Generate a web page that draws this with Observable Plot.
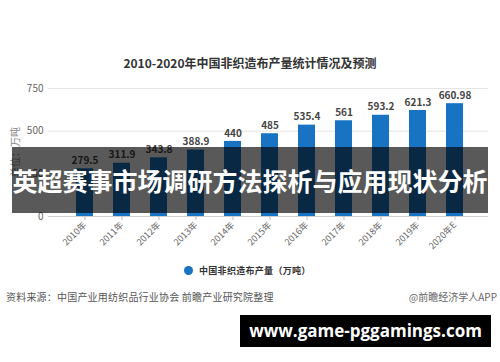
<!DOCTYPE html>
<html><head><meta charset="utf-8">
<script src="https://cdn.jsdelivr.net/npm/d3@7"></script>
<script src="https://cdn.jsdelivr.net/npm/@observablehq/plot@0.6"></script>
<style>
body{margin:0;background:#fff;font-family:"Noto Sans CJK SC","Noto Sans",sans-serif;}
#wrap{position:relative;width:500px;height:362px;overflow:hidden;background:#fff;}
#chart{position:absolute;left:0;top:0;}
.abs{position:absolute;white-space:nowrap;}
</style></head><body>
<div id="wrap">
  <div id="chart"></div>
  <div class="abs" id="title" style="left:0;width:500px;top:54px;text-align:center;font-size:12px;font-weight:bold;color:#333;line-height:18px;"></div>
  <div class="abs" id="ytitle" style="left:15px;top:152px;transform:translate(-50%,-50%) rotate(-90deg);font-size:10px;color:#888;line-height:12px;"></div>
  <div class="abs" id="legend" style="left:184px;top:264px;font-size:9px;color:#333;line-height:14px;font-weight:bold;">
    <span style="display:inline-block;width:9px;height:9px;border-radius:50%;vertical-align:-1px;margin-right:6px;" id="legdot"></span><span id="legtext" style="letter-spacing:0.3px;"></span>
  </div>
  <div class="abs" id="source" style="left:6px;top:289px;font-size:10px;color:#555;line-height:16px;letter-spacing:0.2px;"></div>
  <div class="abs" id="brand" style="right:3px;top:289px;font-size:10px;color:#666;line-height:16px;"></div>
  <div class="abs" id="band" style="left:12px;top:147px;width:476px;height:66px;background:rgba(0,0,0,0.65);color:#fff;font-weight:bold;font-size:25px;line-height:66px;text-align:center;"></div>
  <div class="abs" id="site" style="left:240px;top:315px;width:251px;height:32px;background:#000;color:#fff;font-family:'Open Sans',sans-serif;font-weight:bold;font-size:17px;line-height:32px;text-align:center;"></div>
</div>
<script>
const years = ["2010年","2011年","2012年","2013年","2014年","2015年","2016年","2017年","2018年","2019年","2020年E"];
const values = [279.5, 311.9, 343.8, 388.9, 440, 485, 535.4, 561, 593.2, 621.3, 660.98];
const yTicks = [0, 250, 500, 750];
const titleText = "2010-2020年中国非织造布产量统计情况及预测";
const yTitleText = "单位：万吨";
const seriesName = "中国非织造布产量（万吨）";
const sourceText = "资料来源：中国产业用纺织品行业协会 前瞻产业研究院整理";
const brandText = "@前瞻经济学人APP";
const bannerText = "英超赛事市场调研方法探析与应用现状分析";
const siteText = "www.game-pggamings.com";

const barColor = "#1873c3";
const data = years.map((y, i) => ({year: y, value: values[i]}));

document.getElementById("title").textContent = titleText;
document.getElementById("ytitle").textContent = yTitleText;
document.getElementById("legtext").textContent = seriesName;
document.getElementById("legdot").style.background = barColor;
document.getElementById("source").textContent = sourceText;
document.getElementById("brand").textContent = brandText;
document.getElementById("band").textContent = bannerText;
document.getElementById("site").textContent = siteText;

const chart = Plot.plot({
  width: 500,
  height: 362,
  marginTop: 88,
  marginBottom: 146,
  marginLeft: 53,
  marginRight: 13,
  style: {fontFamily: '"Noto Sans CJK SC","Noto Sans",sans-serif', background: "transparent", color: "#666"},
  x: {domain: years, padding: 0.53, label: null},
  y: {domain: [0, 750], label: null},
  marks: [
    Plot.ruleY(yTicks.filter(v => v > 0), {stroke: "#e4e4e4", insetLeft: -5, insetRight: -1}),
    Plot.barY(data, {x: "year", y: "value", fill: barColor}),
    Plot.ruleY([0], {stroke: "#cfcfcf", insetLeft: -5, insetRight: -1}),
    Plot.text(data, {x: "year", y: "value", text: d => String(d.value), dy: -8, fill: "#444", fontWeight: "bold", fontSize: 10}),
    Plot.axisY(yTicks, {tickSize: 0, tickPadding: 10, fill: "#666", fontSize: 10, label: null}),
    Plot.axisX({tickRotate: -45, tickSize: 4, tickPadding: 3, stroke: "#bbb", fill: "#666", fontSize: 9, label: null})
  ]
});
document.getElementById("chart").appendChild(chart);
</script>
</body></html>
